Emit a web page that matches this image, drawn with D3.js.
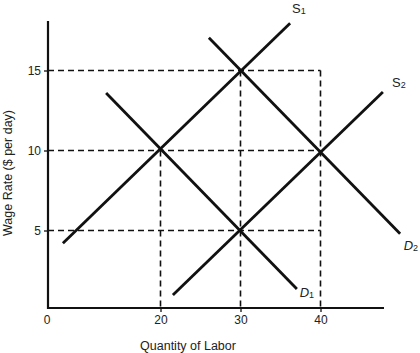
<!DOCTYPE html>
<html><head><meta charset="utf-8">
<script src="https://cdn.jsdelivr.net/npm/d3@7"></script>
<style>body{margin:0;background:#fff}svg{display:block}text{font-family:"Liberation Sans",Arial,sans-serif;fill:#222}</style>
</head><body><svg id="c" width="420" height="353"></svg>
<script>
// Data
const xTicks = [20, 30, 40];
const yTicks = [5, 10, 15];
const S1 = [[7.8, 4.2], [36.2, 17.95]];
const S2 = [[21.55, 0.97], [47.8, 13.65]];
const D1 = [[13.2, 13.6], [37.05, 1.35]];
const D2 = [[26.05, 17.05], [49.95, 4.8]];
const curveLabels = [
  {name: "S", sub: "1", at: [37.3, 18.6], italic: false},
  {name: "S", sub: "2", at: [49.8, 13.95], italic: false},
  {name: "D", sub: "1", at: [38.3, 0.85], italic: true},
  {name: "D", sub: "2", at: [51.3, 3.8], italic: true}
];
// equilibrium guides: [q, w]
const hGuides = [[40, 15], [40, 10], [40, 5]];
const vGuides = [[20, 10], [30, 15], [40, 15]];

const svg = d3.select("#c");
const x = d3.scaleLinear().domain([20, 40]).range([160.5, 320.5]);
const y = d3.scaleLinear().domain([5, 15]).range([230.5, 70.5]);
const X0 = 48, Y0 = 308, XMAX = 384, YTOP = 21;

// dashed guides
const g = svg.append("g").attr("stroke", "#111").attr("stroke-width", 1.6).attr("stroke-dasharray", "6,4");
hGuides.forEach(([q, w]) => g.append("line").attr("x1", X0).attr("x2", x(q)).attr("y1", y(w)).attr("y2", y(w)));
vGuides.forEach(([q, w]) => g.append("line").attr("x1", x(q)).attr("x2", x(q)).attr("y1", y(w)).attr("y2", Y0));

// axes
const xa = svg.append("g").attr("transform", `translate(0,${Y0})`)
  .call(d3.axisBottom(x).tickValues(xTicks).tickSize(4).tickPadding(3));
const ya = svg.append("g").attr("transform", `translate(${X0},0)`)
  .call(d3.axisLeft(y).tickValues(yTicks).tickSize(4).tickPadding(3));
[xa, ya].forEach(a => {
  a.select(".domain").remove();
  a.selectAll("line").attr("stroke", "#111").attr("stroke-width", 1.3);
  a.selectAll("text").attr("font-size", 12).attr("fill", "#222")
   .style("font-family", '"Liberation Sans",Arial,sans-serif');
});
svg.append("path").attr("d", `M${X0},${YTOP}V${Y0}H${XMAX}`)
  .attr("fill", "none").attr("stroke", "#111").attr("stroke-width", 2.2);
svg.append("text").attr("x", X0 - 1).attr("y", 324).attr("text-anchor", "middle")
  .attr("font-size", 12).text("0");

// curves
const line = d3.line().x(d => x(d[0])).y(d => y(d[1]));
[S1, S2, D1, D2].forEach(c => svg.append("path").attr("d", line(c))
  .attr("fill", "none").attr("stroke", "#111").attr("stroke-width", 2.8));

curveLabels.forEach(l => {
  const t = svg.append("text").attr("x", x(l.at[0])).attr("y", y(l.at[1]))
    .attr("text-anchor", "middle").attr("font-size", 13)
    .attr("font-style", l.italic ? "italic" : "normal");
  t.append("tspan").text(l.name);
  t.append("tspan").attr("font-size", 9).attr("dy", 1).attr("font-style", "normal").text(l.sub);
});

// titles
svg.append("text").attr("x", 188).attr("y", 350).attr("text-anchor", "middle")
  .attr("font-size", 12.5).text("Quantity of Labor");
svg.append("text").attr("transform", "translate(12,173) rotate(-90)").attr("text-anchor", "middle")
  .attr("font-size", 12.5).text("Wage Rate ($ per day)");
</script></body></html>
